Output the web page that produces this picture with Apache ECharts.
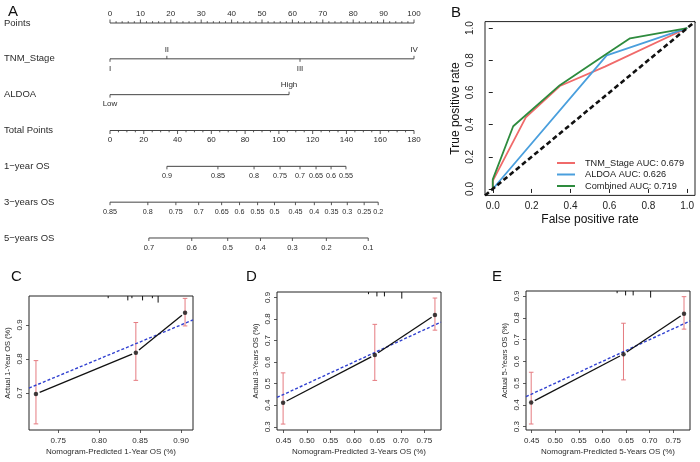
<!DOCTYPE html>
<html>
<head>
<meta charset="utf-8">
<script src="https://cdn.jsdelivr.net/npm/echarts@6.0.0/dist/echarts.min.js"></script>
<style>
html,body{margin:0;padding:0;background:#ffffff;}
#chart{width:700px;height:462px;}
</style>
</head>
<body>
<div id="chart"></div>
<script>
// ===== Panel A : nomogram =====
const nomoRowNames = ['Points', 'TNM_Stage', 'ALDOA', 'Total Points', '1\u2212year OS', '3\u2212years OS', '5\u2212years OS'];
const pointsTickValues = [0, 10, 20, 30, 40, 50, 60, 70, 80, 90, 100];
const pointsMinorStep = 2;
const tnmStageLabels = ['I', 'II', 'III', 'IV'];
const tnmStagePoints = [0, 18.7, 62.5, 100];
const aldoaLabels = ['Low', 'High'];
const aldoaPoints = [0, 58.9];
const totalPointsTickValues = [0, 20, 40, 60, 80, 100, 120, 140, 160, 180];
const totalPointsMinorStep = 5;
const os1Labels = ['0.9', '0.85', '0.8', '0.75', '0.7', '0.65', '0.6', '0.55'];
const os1TotalPoints = [33.7, 63.9, 85.3, 100.7, 112.5, 122.0, 130.9, 139.7];
const os3Labels = ['0.85', '0.8', '0.75', '0.7', '0.65', '0.6', '0.55', '0.5', '0.45', '0.4', '0.35', '0.3', '0.25', '0.2'];
const os3TotalPoints = [0, 22.4, 39.0, 52.5, 66.1, 76.7, 87.4, 97.4, 109.8, 121.0, 131.1, 140.5, 150.5, 158.8];
const os5Labels = ['0.7', '0.6', '0.5', '0.4', '0.3', '0.2', '0.1'];
const os5TotalPoints = [23.0, 48.4, 69.7, 89.1, 108.0, 128.1, 152.9];

// ===== Panel B : ROC =====
const rocNames = ['TNM_Stage AUC: 0.679', 'ALDOA AUC: 0.626', 'Combined AUC: 0.719'];
const rocTnmFpr = [0, 0, 0.17, 0.345, 0.577, 1];
const rocTnmTpr = [0, 0.05, 0.445, 0.64, 0.76, 1];
const rocAldoaFpr = [0, 0.586, 1];
const rocAldoaTpr = [0, 0.83, 1];
const rocCombFpr = [0, 0, 0.105, 0.345, 0.586, 0.706, 1];
const rocCombTpr = [0, 0.06, 0.39, 0.645, 0.84, 0.936, 1];
const rocTicks = [0, 0.2, 0.4, 0.6, 0.8, 1.0];

// ===== Panels C-E : calibration =====
const cPred = [0.7228, 0.8448, 0.9049];
const cObs = [0.697, 0.8185, 0.936];
const cLow = [0.609, 0.737, 0.897];
const cHigh = [0.795, 0.907, 0.978];
const cRugX = [0.811, 0.835, 0.840, 0.853, 0.865, 0.872];
const cRugN = [1, 2, 1, 2, 1, 3];
const cXTicks = [0.75, 0.80, 0.85, 0.90];
const cYTicks = [0.7, 0.8, 0.9];

const dPred = [0.449, 0.6445, 0.7727];
const dObs = [0.411, 0.633, 0.8185];
const dLow = [0.3125, 0.515, 0.748];
const dHigh = [0.55, 0.775, 0.897];
const dRugX = [0.631, 0.649, 0.665, 0.702];
const dRugN = [1, 2, 2, 3];

const ePred = [0.449, 0.6445, 0.7727];
const eObs = [0.411, 0.633, 0.8185];
const eLow = [0.3125, 0.515, 0.748];
const eHigh = [0.55, 0.775, 0.897];
const eRugX = [0.631, 0.649, 0.665, 0.702];
const eRugN = [1, 2, 2, 3];

const deXTicks = [0.45, 0.50, 0.55, 0.60, 0.65, 0.70, 0.75];
const deYTicks = [0.3, 0.4, 0.5, 0.6, 0.7, 0.8, 0.9];

// ================= rendering =================
const FONT = '"Liberation Sans", Arial, Helvetica, sans-serif';
const INK = '#2b2b2b';
const chart = echarts.init(document.getElementById('chart'), null, {renderer: 'canvas', width: 700, height: 462});

function buildTicks(rows) {
  const list = [];
  rows.forEach(r => {
    r.values.forEach((v, i) => {
      let dir = r.dir;
      if (dir === 'alt') dir = (i % 2 === 0) ? 1 : -1;
      list.push({v: [v, r.row, dir, r.len], label: r.labels ? r.labels[i] : '', fs: r.fs || 7.2});
    });
  });
  return list;
}
function minorValues(major, step) {
  const out = [];
  for (let k = 0; k < major.length - 1; k++) {
    for (let v = major[k] + step; v < major[k + 1] - 1e-9; v += step) out.push(v);
  }
  return out;
}
const ticksP = buildTicks([
  {row: 0, values: pointsTickValues, labels: pointsTickValues.map(String), dir: -1, len: 3.5, fs: 8},
  {row: 0, values: minorValues(pointsTickValues, pointsMinorStep), dir: -1, len: 1.8},
  {row: 1, values: tnmStagePoints, labels: tnmStageLabels, dir: 'alt', len: 3, fs: 8},
  {row: 2, values: aldoaPoints, labels: aldoaLabels, dir: 'alt', len: 3, fs: 8}
]);
const ticksT = buildTicks([
  {row: 3, values: totalPointsTickValues, labels: totalPointsTickValues.map(String), dir: 1, len: 3.5, fs: 8},
  {row: 3, values: minorValues(totalPointsTickValues, totalPointsMinorStep), dir: 1, len: 1.8},
  {row: 4, values: os1TotalPoints, labels: os1Labels, dir: 1, len: 3},
  {row: 5, values: os3TotalPoints, labels: os3Labels, dir: 1, len: 3},
  {row: 6, values: os5TotalPoints, labels: os5Labels, dir: 1, len: 3, fs: 7.5}
]);
const linesP = [
  [pointsTickValues[0], 0, pointsTickValues[pointsTickValues.length - 1]],
  [tnmStagePoints[0], 1, tnmStagePoints[tnmStagePoints.length - 1]],
  [aldoaPoints[0], 2, aldoaPoints[aldoaPoints.length - 1]]
];
const linesT = [
  [totalPointsTickValues[0], 3, totalPointsTickValues[totalPointsTickValues.length - 1]],
  [os1TotalPoints[0], 4, os1TotalPoints[os1TotalPoints.length - 1]],
  [os3TotalPoints[0], 5, os3TotalPoints[os3TotalPoints.length - 1]],
  [os5TotalPoints[0], 6, os5TotalPoints[os5TotalPoints.length - 1]]
];

function tickRenderer(list) {
  return function (params, api) {
    const t = list[params.dataIndex];
    const p = api.coord([api.value(0), api.value(1)]);
    const dir = api.value(2), len = api.value(3);
    const children = [{
      type: 'line',
      shape: {x1: p[0], y1: p[1], x2: p[0], y2: p[1] + dir * len},
      style: {stroke: '#444', lineWidth: 0.9}
    }];
    if (t.label) {
      children.push({
        type: 'text',
        style: {text: t.label, x: p[0], y: p[1] + dir * 9.5, align: 'center', verticalAlign: 'middle',
          fontSize: t.fs, fontFamily: FONT, fill: INK}
      });
    }
    return {type: 'group', children: children};
  };
}
function rowLineRender(params, api) {
  const a = api.coord([api.value(0), api.value(1)]);
  const b = api.coord([api.value(2), api.value(1)]);
  return {type: 'line', shape: {x1: a[0], y1: a[1], x2: b[0], y2: b[1]}, style: {stroke: '#444', lineWidth: 1}};
}

const ERR = '#e57b80';
function errRender(params, api) {
  const x = api.value(0);
  const lo = api.coord([x, api.value(1)]);
  const hi = api.coord([x, api.value(2)]);
  const cw = 2.3;
  const st = {stroke: ERR, lineWidth: 1};
  return {type: 'group', children: [
    {type: 'line', shape: {x1: lo[0], y1: lo[1], x2: hi[0], y2: hi[1]}, style: st},
    {type: 'line', shape: {x1: lo[0] - cw, y1: lo[1], x2: lo[0] + cw, y2: lo[1]}, style: st},
    {type: 'line', shape: {x1: hi[0] - cw, y1: hi[1], x2: hi[0] + cw, y2: hi[1]}, style: st}
  ]};
}
function gapLineRender(xs, ys) {
  return function (params, api) {
    const i = params.dataIndex;
    if (i === 0) return null;
    const a = api.coord([xs[i - 1], ys[i - 1]]);
    const b = api.coord([xs[i], ys[i]]);
    const dx = b[0] - a[0], dy = b[1] - a[1], L = Math.hypot(dx, dy);
    const ux = dx / L, uy = dy / L, g = 4;
    return {type: 'line', shape: {x1: a[0] + ux * g, y1: a[1] + uy * g, x2: b[0] - ux * g, y2: b[1] - uy * g},
      style: {stroke: '#111', lineWidth: 1.3}};
  };
}
function rugRender(params, api) {
  const p = api.coord([api.value(0), 0]);
  const y0 = params.coordSys.y;
  return {type: 'line', shape: {x1: p[0], y1: y0, x2: p[0], y2: y0 + api.value(1) * 2.2}, style: {stroke: '#111', lineWidth: 1}};
}

function zip(a, b) { return a.map((v, i) => [v, b[i]]); }
function zip3(a, b, c) { return a.map((v, i) => [v, b[i], c[i]]); }

function calAxisX(gi, min, max, ticks, name) {
  return {gridIndex: gi, type: 'value', min: min, max: max,
    axisLine: {show: false}, splitLine: {show: false},
    axisTick: {show: true, inside: false, length: 3, customValues: ticks, lineStyle: {color: '#333', width: 0.8}},
    axisLabel: {customValues: ticks, formatter: v => v.toFixed(2), fontSize: 8, color: INK, fontFamily: FONT, margin: 7},
    name: name, nameLocation: 'middle', nameGap: 18, nameTextStyle: {fontSize: 8, color: INK, fontFamily: FONT}};
}
function calAxisY(gi, min, max, ticks, name) {
  return {gridIndex: gi, type: 'value', min: min, max: max,
    axisLine: {show: false}, splitLine: {show: false},
    axisTick: {show: true, inside: false, length: 3, customValues: ticks, lineStyle: {color: '#333', width: 0.8}},
    axisLabel: {customValues: ticks, formatter: v => v.toFixed(1), fontSize: 8, color: INK, fontFamily: FONT, rotate: 90, margin: 5},
    name: name, nameLocation: 'middle', nameRotate: 90, nameGap: 17, nameTextStyle: {fontSize: 7.5, color: INK, fontFamily: FONT}};
}
function calSeries(ai, pred, obs, lo, hi, rugX, rugN, xmin, xmax) {
  return [
    {type: 'line', xAxisIndex: ai, yAxisIndex: ai - 1, data: [[xmin, xmin], [xmax, xmax]], symbol: 'none', silent: true,
      lineStyle: {color: '#3040d0', width: 1.4, type: [3, 2]}, z: 3},
    {type: 'custom', xAxisIndex: ai, yAxisIndex: ai - 1, data: zip3(pred, lo, hi), renderItem: errRender, z: 2, silent: true},
    {type: 'custom', xAxisIndex: ai, yAxisIndex: ai - 1, data: zip(pred, obs), renderItem: gapLineRender(pred, obs), z: 4, silent: true},
    {type: 'scatter', xAxisIndex: ai, yAxisIndex: ai - 1, data: zip(pred, obs), symbol: 'circle', symbolSize: 4.5,
      itemStyle: {color: '#111'}, z: 5, silent: true},
    {type: 'custom', xAxisIndex: ai, yAxisIndex: ai - 1, data: zip(rugX, rugN), renderItem: rugRender, z: 4, silent: true}
  ];
}

const rocAxisMin = -0.04, rocAxisMax = 1.04;
const rocColors = ['#f06a6a', '#4a9fdd', '#2e8b3e'];
const letterStyle = {fontSize: 15, fontWeight: 'normal', color: '#111', fontFamily: FONT};

const option = {
  animation: false,
  backgroundColor: '#ffffff',
  title: [
    {text: 'A', left: 3, top: -1, textStyle: letterStyle},
    {text: 'B', left: 446, top: 0, textStyle: letterStyle},
    {text: 'C', left: 6, top: 264, textStyle: letterStyle},
    {text: 'D', left: 241, top: 264, textStyle: letterStyle},
    {text: 'E', left: 487, top: 264, textStyle: letterStyle}
  ],
  legend: {
    data: rocNames, orient: 'vertical', left: 552, top: 153, itemWidth: 18, itemHeight: 2, itemGap: 1.5,
    icon: 'rect', textStyle: {fontSize: 9.2, color: '#222', fontFamily: FONT, lineHeight: 10, padding: [0, 0, 0, 5]},
    selectedMode: false
  },
  grid: [
    {left: 110, top: 5.1, width: 304, height: 250.8},
    {left: 485, top: 21.6, width: 210, height: 173.8, show: true, borderColor: '#222', borderWidth: 1},
    {left: 29, top: 296, width: 164, height: 134, show: true, borderColor: '#222', borderWidth: 1},
    {left: 277, top: 292, width: 164, height: 138, show: true, borderColor: '#222', borderWidth: 1},
    {left: 526, top: 291, width: 164, height: 139, show: true, borderColor: '#222', borderWidth: 1}
  ],
  xAxis: [
    {gridIndex: 0, type: 'value', min: 0, max: 100, show: false},
    {gridIndex: 0, type: 'value', min: 0, max: 180, show: false},
    {gridIndex: 1, type: 'value', min: rocAxisMin, max: rocAxisMax,
      axisLine: {show: false}, splitLine: {show: false},
      axisTick: {show: true, inside: false, length: 4, customValues: rocTicks, lineStyle: {color: '#222'}},
      axisLabel: {customValues: rocTicks, formatter: v => v.toFixed(1), fontSize: 10, color: '#222', fontFamily: FONT, margin: 6},
      name: 'False positive rate', nameLocation: 'middle', nameGap: 18, nameTextStyle: {fontSize: 12, color: '#111', fontFamily: FONT}},
    calAxisX(2, 0.7143, 0.9146, cXTicks, 'Nomogram-Predicted 1-Year OS (%)'),
    calAxisX(3, 0.436, 0.7856, deXTicks, 'Nomogram-Predicted 3-Years OS (%)'),
    calAxisX(4, 0.438, 0.7854, deXTicks, 'Nomogram-Predicted 5-Years OS (%)')
  ],
  yAxis: [
    {gridIndex: 0, type: 'category', data: nomoRowNames, inverse: true,
      axisLine: {show: false}, axisTick: {show: false}, splitLine: {show: false},
      axisLabel: {align: 'left', margin: 106, fontSize: 9.5, color: INK, fontFamily: FONT}},
    {gridIndex: 1, type: 'value', min: rocAxisMin, max: rocAxisMax,
      axisLine: {show: false}, splitLine: {show: false},
      axisTick: {show: true, inside: false, length: 4, customValues: rocTicks, lineStyle: {color: '#222'}},
      axisLabel: {customValues: rocTicks, formatter: v => v.toFixed(1), fontSize: 10, color: '#222', fontFamily: FONT, rotate: 90, margin: 10},
      name: 'True positive rate', nameLocation: 'middle', nameRotate: 90, nameGap: 23, nameTextStyle: {fontSize: 12, color: '#111', fontFamily: FONT}},
    calAxisY(2, 0.591, 0.985, cYTicks, 'Actual 1-Year OS (%)'),
    calAxisY(3, 0.285, 0.925, deYTicks, 'Actual 3-Years OS (%)'),
    calAxisY(4, 0.285, 0.923, deYTicks, 'Actual 5-Years OS (%)')
  ],
  series: [
    {type: 'custom', xAxisIndex: 0, yAxisIndex: 0, data: linesP, renderItem: rowLineRender, silent: true},
    {type: 'custom', xAxisIndex: 1, yAxisIndex: 0, data: linesT, renderItem: rowLineRender, silent: true},
    {type: 'custom', xAxisIndex: 0, yAxisIndex: 0, data: ticksP.map(t => t.v), renderItem: tickRenderer(ticksP), silent: true},
    {type: 'custom', xAxisIndex: 1, yAxisIndex: 0, data: ticksT.map(t => t.v), renderItem: tickRenderer(ticksT), silent: true},
    {name: rocNames[0], type: 'line', xAxisIndex: 2, yAxisIndex: 1, data: zip(rocTnmFpr, rocTnmTpr), symbol: 'none',
      lineStyle: {color: rocColors[0], width: 1.8}, itemStyle: {color: rocColors[0]}, z: 3},
    {name: rocNames[1], type: 'line', xAxisIndex: 2, yAxisIndex: 1, data: zip(rocAldoaFpr, rocAldoaTpr), symbol: 'none',
      lineStyle: {color: rocColors[1], width: 1.8}, itemStyle: {color: rocColors[1]}, z: 3},
    {name: rocNames[2], type: 'line', xAxisIndex: 2, yAxisIndex: 1, data: zip(rocCombFpr, rocCombTpr), symbol: 'none',
      lineStyle: {color: rocColors[2], width: 1.8}, itemStyle: {color: rocColors[2]}, z: 3},
    {type: 'line', xAxisIndex: 2, yAxisIndex: 1, data: [[rocAxisMin, rocAxisMin], [rocAxisMax, rocAxisMax]], symbol: 'none',
      lineStyle: {color: '#111', width: 2.6, type: [5, 3]}, z: 4, silent: true},
    ...calSeries(3, cPred, cObs, cLow, cHigh, cRugX, cRugN, 0.7143, 0.9146),
    ...calSeries(4, dPred, dObs, dLow, dHigh, dRugX, dRugN, 0.436, 0.7856),
    ...calSeries(5, ePred, eObs, eLow, eHigh, eRugX, eRugN, 0.438, 0.7854)
  ]
};
chart.setOption(option);
</script>
</body>
</html>
